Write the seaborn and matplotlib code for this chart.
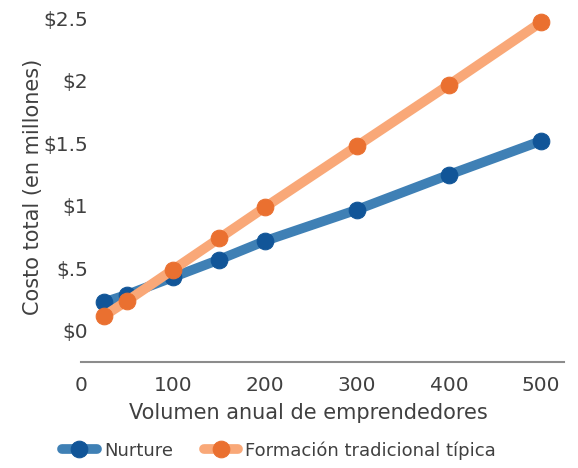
import matplotlib
matplotlib.use("Agg")
import matplotlib.pyplot as plt
import seaborn as sns
import pandas as pd

volumen = [25, 50, 100, 150, 200, 300, 400, 500]
nurture = [0.23, 0.29, 0.43, 0.57, 0.72, 0.97, 1.25, 1.52]
tradicional = [0.12, 0.24, 0.49, 0.74, 0.99, 1.48, 1.97, 2.47]

x_ticks = [0, 100, 200, 300, 400, 500]
y_ticks = [0, 0.5, 1, 1.5, 2, 2.5]
y_tick_labels = ["$0", "$.5", "$1", "$1.5", "$2", "$2.5"]

text_color = "#404040"

sns.set_theme(style="white")
plt.rcParams["font.family"] = ["DejaVu Sans"]

df = pd.DataFrame({"volumen": volumen, "Nurture": nurture,
                   "Formación tradicional típica": tradicional})

fig = plt.figure(figsize=(5.78, 4.68), dpi=100)
ax = fig.add_axes([0.140, 0.226, 0.836, 0.748])

sns.lineplot(data=df, x="volumen", y="Nurture", ax=ax, label="Nurture",
             color="#3f80b5", lw=7, marker="o", markersize=12,
             markerfacecolor="#115598", markeredgecolor="#115598")
sns.lineplot(data=df, x="volumen", y="Formación tradicional típica", ax=ax,
             label="Formación tradicional típica",
             color="#f9a878", lw=7, marker="o", markersize=12,
             markerfacecolor="#ea7030", markeredgecolor="#ea7030")

ax.set_xlim(0, 525)
ax.set_ylim(-0.25, 2.55)
ax.set_xticks(x_ticks)
ax.set_yticks(y_ticks)
ax.set_yticklabels(y_tick_labels)
ax.tick_params(axis="both", length=0, labelsize=14.5, labelcolor=text_color)
ax.tick_params(axis="x", pad=10)
ax.tick_params(axis="y", pad=-5)

for s in ["top", "right", "left"]:
    ax.spines[s].set_visible(False)
ax.spines["bottom"].set_color("#8c8c8c")
ax.spines["bottom"].set_linewidth(1.5)

ax.set_xlabel("Volumen anual de emprendedores", fontsize=15, color=text_color, labelpad=6)
ax.xaxis.label.set_x(0.47)
ax.set_ylabel("Costo total (en millones)", fontsize=15, color=text_color, labelpad=0)

ax.legend(loc="upper center", bbox_to_anchor=(0.41, -0.205), ncol=2, frameon=False,
          fontsize=13, labelcolor=text_color, handlelength=1.9, columnspacing=1.7,
          handletextpad=0.4, borderaxespad=0)

fig.savefig("out.png", dpi=100)
